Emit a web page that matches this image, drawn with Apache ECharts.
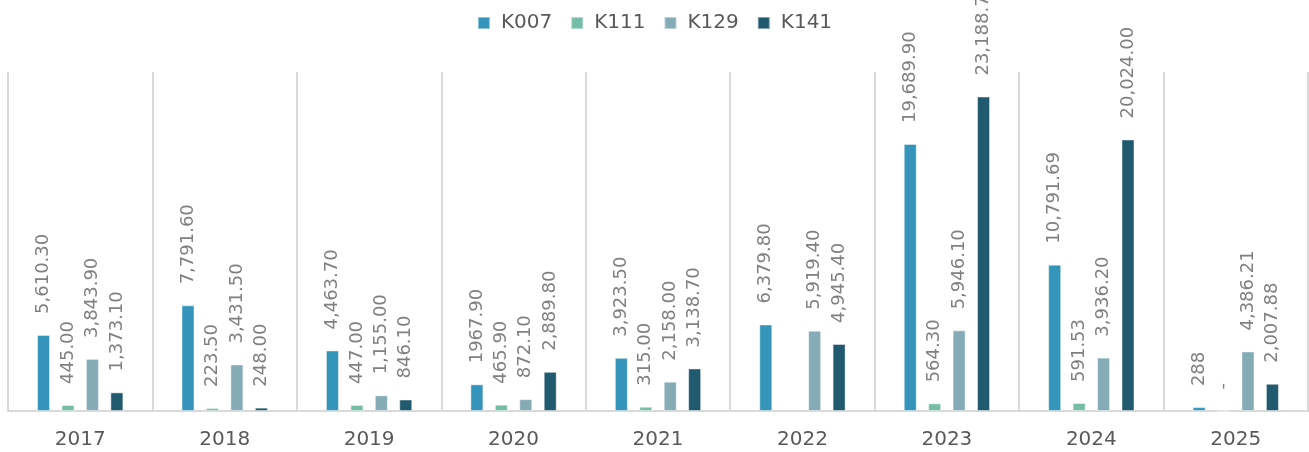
<!DOCTYPE html>
<html>
<head>
<meta charset="utf-8">
<script src="https://cdn.jsdelivr.net/npm/echarts@6/dist/echarts.min.js"></script>
<style>
  html, body { margin: 0; padding: 0; background: #fff; }
  #chart { width: 1309px; height: 452px; }
</style>
</head>
<body>
<div id="chart"></div>
<script>
const years = ['2017', '2018', '2019', '2020', '2021', '2022', '2023', '2024', '2025']
const seriesNames = ['K007', 'K111', 'K129', 'K141']

const k007 = [5610.3, 7791.6, 4463.7, 1967.9, 3923.5, 6379.8, 19689.9, 10791.69, 288]
const k111 = [445, 223.5, 447, 465.9, 315, null, 564.3, 591.53, 0]
const k129 = [3843.9, 3431.5, 1155, 872.1, 2158, 5919.4, 5946.1, 3936.2, 4386.21]
const k141 = [1373.1, 248, 846.1, 2889.8, 3138.7, 4945.4, 23188.7, 20024, 2007.88]

// label text as printed in the source (formatting is not uniform)
const k007Labels = ['5,610.30', '7,791.60', '4,463.70', '1967.90', '3,923.50', '6,379.80', '19,689.90', '10,791.69', '288']
const k111Labels = ['445.00', '223.50', '447.00', '465.90', '315.00', '', '564.30', '591.53', '-']
const k129Labels = ['3,843.90', '3,431.50', '1,155.00', '872.10', '2,158.00', '5,919.40', '5,946.10', '3,936.20', '4,386.21']
const k141Labels = ['1,373.10', '248.00', '846.10', '2,889.80', '3,138.70', '4,945.40', '23,188.70', '20,024.00', '2,007.88']

const colors = ['#3494ba', '#75bda7', '#84abb6', '#21596e']
const FONT = 'DejaVu Sans'

const values = [k007, k111, k129, k141]
const labels = [k007Labels, k111Labels, k129Labels, k141Labels]

const chart = echarts.init(document.getElementById('chart'), null, { renderer: 'canvas' })

chart.setOption({
  backgroundColor: '#ffffff',
  animation: false,
  color: colors,
  legend: {
    top: 8,
    left: 'center',
    icon: 'rect',
    itemWidth: 12,
    itemHeight: 12,
    itemGap: 18,
    textStyle: { color: '#595959', fontSize: 20, fontFamily: FONT, padding: [0, 0, 0, 6] },
    data: seriesNames,
  },
  grid: { left: 8, right: 1, top: 72, bottom: 41 },
  xAxis: {
    type: 'category',
    data: years,
    axisTick: { show: false },
    axisLine: { lineStyle: { color: '#d9d9d9', width: 2 } },
    splitLine: { show: true, lineStyle: { color: '#d9d9d9', width: 2 } },
    axisLabel: { color: '#595959', fontSize: 20, fontFamily: FONT, margin: 19 },
  },
  yAxis: {
    type: 'value',
    min: 0,
    max: 25000,
    show: false,
    splitLine: { show: false },
  },
  series: seriesNames.map((name, i) => ({
    name,
    type: 'bar',
    barWidth: 13,
    barGap: '88%',
    barCategoryGap: '40%',
    data: values[i],
    itemStyle: { color: colors[i], borderColor: 'rgba(255,255,255,0.45)', borderWidth: 1 },
    label: {
      show: true,
      position: 'top',
      rotate: 90,
      align: 'left',
      verticalAlign: 'middle',
      distance: 21,
      color: '#808080',
      fontSize: 18,
      fontFamily: FONT,
      formatter: p => labels[i][p.dataIndex],
    },
  })),
})
</script>
</body>
</html>
